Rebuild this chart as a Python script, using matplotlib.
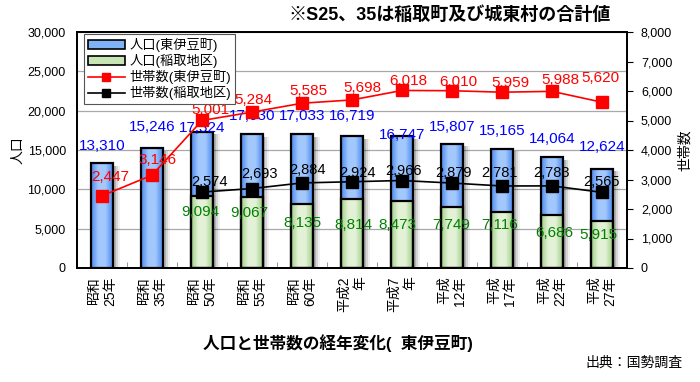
import matplotlib
matplotlib.use("Agg")
import matplotlib.pyplot as plt
import numpy as np
from matplotlib.colors import LinearSegmentedColormap
from matplotlib.lines import Line2D
from matplotlib.patches import Patch
from matplotlib.ticker import FuncFormatter

plt.rcParams['font.family'] = ['Liberation Sans', 'Noto Sans CJK JP']

# --- data -------------------------------------------------------------
YEARS = ["昭和\n25年", "昭和\n35年", "昭和\n50年", "昭和\n55年", "昭和\n60年",
         "平成2\n年", "平成7\n年", "平成\n12年", "平成\n17年", "平成\n22年", "平成\n27年"]
POP_TOWN = [13310, 15246, 17324, 17030, 17033, 16719, 16747, 15807, 15165, 14064, 12624]
POP_INATORI = [None, None, 9094, 9067, 8135, 8814, 8473, 7749, 7116, 6686, 5915]
HH_TOWN = [2447, 3146, 5001, 5284, 5585, 5698, 6018, 6010, 5959, 5988, 5620]
HH_INATORI = [None, None, 2574, 2693, 2884, 2924, 2966, 2879, 2781, 2783, 2565]

# label nudges in pixels (dx right, dy up / down)
POP_DY = [17, 21, 4, 18, 18, 20, 1, 17, 18, 18, 22]
HH_DX = [8, 6, 8, 1, 6, 10, 6, 6, 8, 8, -2]
HH_DY = [19, 15, 10, 12, 12, 12, 9, 9, 9, 11, 24]
IN_HH_DX = [0, 0, 7, 7, 5, 5, 2, 1, -2, 0, -1]
IN_HH_DY = [0, 0, 10, 15, 13, 9, 10, 10, 13, 13, 10]
IN_POP_DX = [0, 0, -2, -3, 0, 1, -5, -1, -2, 2, -4]
IN_POP_DY = [0, 0, 16, 16, 19, 26, 24, 18, 13, 18, 14]

PX = 0.72  # points per pixel at dpi 100
W = 0.44
x = np.arange(len(YEARS))

fig = plt.figure(figsize=(7, 3.82), dpi=100)
ax = fig.add_axes([77 / 700, 1 - 268 / 382, 550 / 700, 236 / 382])
ax2 = ax.twinx()


def gradient_bars(xs, hs, c_edge, c_mid):
    cmap = LinearSegmentedColormap.from_list("g", [c_edge, c_mid, c_mid, c_edge])
    grad = np.linspace(0, 1, 64)[None, :]
    bars = ax.bar(xs, hs, W, color=c_mid, linewidth=0, zorder=2)
    for b in bars:
        x0, w, h = b.get_x(), b.get_width(), b.get_height()
        im = ax.imshow(grad, extent=(x0, x0 + w, 0, h), origin="lower",
                       aspect="auto", cmap=cmap, zorder=2.5)
        im.set_clip_path(b)
    ax.bar(xs, hs, W, fill=False, edgecolor="black", linewidth=1.6, zorder=3)


# shadows behind the outer bars
for off, a in [(0.05, 0.16), (0.09, 0.11), (0.13, 0.06)]:
    ax.bar(x + off, np.array(POP_TOWN) - 350, W, bottom=0, color="black",
           alpha=a, linewidth=0, zorder=1)

gradient_bars(x, POP_TOWN, "#4a88ec", "#a2c8fd")
idx = [i for i, v in enumerate(POP_INATORI) if v is not None]
gradient_bars(x[idx], [POP_INATORI[i] for i in idx], "#9fcf88", "#e3f2d6")

# bar labels
for i, v in enumerate(POP_TOWN):
    ax.annotate(f"{v:,}", (x[i], v), xytext=(0, POP_DY[i] * PX),
                textcoords="offset points", ha="center", va="center",
                fontsize=11, color="#0000ff", zorder=5)
for i in idx:
    v = POP_INATORI[i]
    ax.annotate(f"{v:,}", (x[i], v), xytext=(IN_POP_DX[i] * PX, -IN_POP_DY[i] * PX),
                textcoords="offset points", ha="center", va="center",
                fontsize=11, color="#008000", zorder=5)

# household lines
hh_in = [np.nan if v is None else v for v in HH_INATORI]
ax2.plot(x, HH_TOWN, color="red", lw=1.2, marker="s", ms=8, zorder=4)
ax2.plot(x, hh_in, color="black", lw=1.2, marker="s", ms=8, zorder=4)
for i, v in enumerate(HH_TOWN):
    ax2.annotate(f"{v:,}", (x[i], v), xytext=(HH_DX[i] * PX, HH_DY[i] * PX),
                 textcoords="offset points", ha="center", va="center",
                 fontsize=11, color="red", zorder=6)
for i in idx:
    v = HH_INATORI[i]
    ax2.annotate(f"{v:,}", (x[i], v), xytext=(IN_HH_DX[i] * PX, IN_HH_DY[i] * PX),
                 textcoords="offset points", ha="center", va="center",
                 fontsize=10.5, color="black", zorder=6)

# axes
ax.set_xlim(-0.5, len(YEARS) - 0.5)
ax.set_ylim(0, 30000)
ax2.set_ylim(0, 8000)
ax.set_yticks(range(0, 30001, 5000))
ax2.set_yticks(range(0, 8001, 1000))
fmt = FuncFormatter(lambda v, p: f"{int(v):,}")
ax.yaxis.set_major_formatter(fmt)
ax2.yaxis.set_major_formatter(fmt)
ax.tick_params(axis="y", length=0, pad=8, labelsize=9)
ax2.tick_params(axis="y", direction="out", length=4, pad=6, labelsize=9)
ax.yaxis.grid(True, color="#a8a8a8", lw=0.9)
ax.set_axisbelow(True)

ax.set_xticks(x)
ax.set_xticklabels(YEARS, rotation=90, fontsize=10, linespacing=1.25)
for t in ax.get_xticklabels():
    t.set_multialignment("right")
ax.set_xticks(np.arange(-0.5, len(YEARS), 1), minor=True)
ax.tick_params(axis="x", which="major", length=0, pad=6)
ax.tick_params(axis="x", which="minor", direction="in", length=4, color="#888888")

for a in (ax, ax2):
    for s in a.spines.values():
        s.set_linewidth(1.3)
        s.set_color("black")

ax.set_ylabel("人口", fontsize=10, labelpad=2)
ax2.set_ylabel("世帯数", fontsize=10, labelpad=4, rotation=90)

handles = [
    Patch(facecolor="#7fb2f7", edgecolor="black", lw=1.2),
    Patch(facecolor="#c8e6b5", edgecolor="black", lw=1.2),
    Line2D([], [], color="red", lw=1.2, marker="s", ms=6),
    Line2D([], [], color="black", lw=1.2, marker="s", ms=6),
]
labels = ["人口(東伊豆町)", "人口(稲取地区)", "世帯数(東伊豆町)", "世帯数(稲取地区)"]
leg = ax2.legend(handles, labels, loc="upper left", bbox_to_anchor=(0.012, 0.99),
                 fontsize=9.5, frameon=True, fancybox=False, framealpha=1,
                 edgecolor="#555555", handlelength=2.8, handleheight=0.6,
                 labelspacing=0.15, borderpad=0.3, handletextpad=0.4,
                 borderaxespad=0)
leg.get_frame().set_linewidth(0.8)
leg.set_zorder(10)

fig.text(450 / 700, 1 - 15 / 382, "※S25、35は稲取町及び城東村の合計値",
         ha="center", va="center", fontsize=13, fontweight="bold")
fig.text(338 / 700, 1 - 343 / 382, "人口と世帯数の経年変化(  東伊豆町)",
         ha="center", va="center", fontsize=12, fontweight="bold")
fig.text(683 / 700, 1 - 363 / 382, "出典：国勢調査",
         ha="right", va="center", fontsize=10)

fig.savefig("out.png", dpi=100)
